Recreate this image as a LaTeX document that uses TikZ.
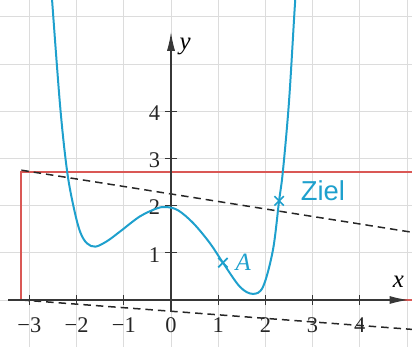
\documentclass[tikz,border=0pt]{standalone}
\usepackage{fontspec}
\setmainfont{Liberation Serif}
\newfontfamily\zielfont{Liberation Sans}
\usetikzlibrary{arrows.meta}
\definecolor{curvec}{RGB}{30,160,205}
\definecolor{rectc}{RGB}{218,88,85}
\definecolor{axisc}{RGB}{55,55,55}
\definecolor{gridc}{RGB}{220,220,220}
\begin{document}
\begin{tikzpicture}[x=1cm,y=1cm,
  axisline/.style={axisc, line width=0.8pt, -{Latex[length=4mm,width=1.7mm]}},
  tickmark/.style={axisc, line width=0.7pt},
  ticklab/.style={font=\fontsize{13.5}{15}\selectfont, text=black!85, inner sep=1pt},
  dashline/.style={black!85, line width=0.9pt, dash pattern=on 4.5pt off 3pt},
  crossmark/.style={curvec, line width=1pt},
  curvelab/.style={text=curvec, inner sep=1pt}]
\useasboundingbox (-3.623,-0.996) rectangle (5.106,6.356);
\clip (-3.623,-0.996) rectangle (5.106,6.356);
% grid
\draw[gridc, line width=0.5pt] (-3.623,-0.996) grid (5.106,6.356);
% red rectangle
\draw[rectc, line width=1.3pt] (-3.17,0) rectangle (5.6,2.72);
% dashed lines
\coordinate (ul) at (-3.17,2.75);
\coordinate (ur) at (5.2,1.42);
\coordinate (ll) at (-3.17,0);
\coordinate (lr) at (5.2,-0.63);
\draw[dashline] (ul) -- (ur);
\draw[dashline] (ll) -- (lr);
% axes
\coordinate (xs) at (-3.45,0);
\coordinate (xe) at (5.03,0);
\coordinate (ys) at (0,-0.25);
\coordinate (ye) at (0,5.68);
\draw[axisline] (xs) -- (xe);
\draw[axisline] (ys) -- (ye);
\node[font=\fontsize{15}{17}\selectfont\itshape, inner sep=0pt] (ylab) at (0.30,5.38) {y};
\node[font=\fontsize{15}{17}\selectfont\itshape, inner sep=0pt] (xlab) at (4.82,0.38) {x};
% ticks
\foreach \k in {-3,-2,-1,1,2,3,4}{
  \draw[tickmark] (\k,-0.1) -- (\k,0.1);
}
\foreach \k in {-3,-2,-1,0,1,2,3,4}{
  \node[ticklab] (xt\k) at (\k,-0.53) {\ifnum\k<0 −\the\numexpr-\k\relax\else\k\fi};
}
\foreach \k in {1,2,3,4}{
  \draw[tickmark] (-0.13,\k) -- (0.13,\k);
  \node[ticklab, anchor=east] (yt\k) at (-0.19,\k-0.04) {\k};
}
% curve
\draw[curvec, line width=1.2pt] plot[smooth, tension=0.55] coordinates {
 (-2.53,6.50) (-2.35,4.12) (-2.2,2.72) (-2.05,1.91) (-1.92,1.43) (-1.78,1.20) (-1.6,1.13)
 (-1.35,1.25) (-1.08,1.45) (-0.66,1.77) (-0.3,1.94) (-0.1,1.97) (0.15,1.90)
 (0.47,1.63) (0.82,1.21) (1.1,0.79) (1.46,0.28) (1.73,0.13) (1.95,0.28)
 (2.16,1.06) (2.29,2.10) (2.37,2.72) (2.5,4.2) (2.62,6.17) (2.645,6.50)};
% marks
\coordinate (A) at (1.1,0.79);
\coordinate (Z) at (2.29,2.10);
\foreach \p in {A,Z}{
  \draw[crossmark] ([shift={(-0.1,-0.1)}]\p) -- ([shift={(0.1,0.1)}]\p);
  \draw[crossmark] ([shift={(-0.1,0.1)}]\p) -- ([shift={(0.1,-0.1)}]\p);
}
\node[curvelab, font=\fontsize{15}{17}\selectfont\itshape] (Alab) at (1.53,0.80) {A};
\node[curvelab, font=\fontsize{16.5}{18}\selectfont\zielfont] (Zlab) at (3.22,2.31) {Ziel};
\end{tikzpicture}
\end{document}
